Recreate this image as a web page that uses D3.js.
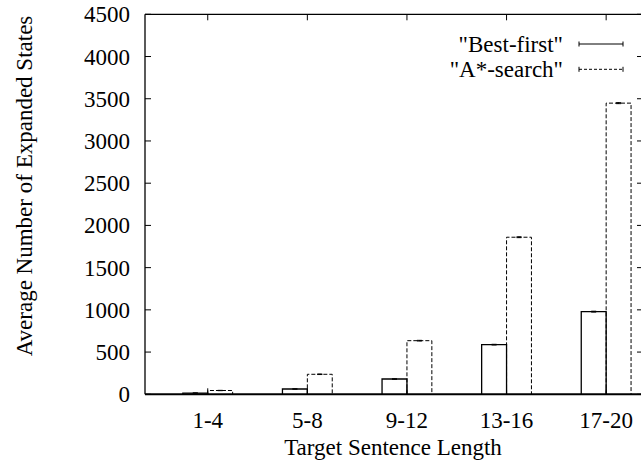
<!DOCTYPE html>
<html><head><meta charset="utf-8">
<script src="https://cdn.jsdelivr.net/npm/d3@7"></script>
<style>
svg text { font-family: "Liberation Serif", "Times New Roman", Tinos, serif !important; }
</style>
</head>
<body style="margin:0;background:#fff">
<svg id="chart" width="641" height="461" style="display:block"></svg>
<script>
const categories = ["1-4","5-8","9-12","13-16","17-20"];
const seriesNames = ["\"Best-first\"", "\"A*-search\""];
const bestFirst = [15, 63, 181, 588, 979];
const aStar = [45, 237, 635, 1860, 3448];
const bestFirstErr = [1, 2, 3, 4, 5];
const aStarErr = [2, 3, 4, 5, 6];
const yTicks = [0,500,1000,1500,2000,2500,3000,3500,4000,4500];

(function(){
const svg = d3.select("#chart");
const pL = 145, pR = 643, pT = 14.3, pB = 394.3;
const x = d3.scaleLinear().domain([-0.63, 4.37]).range([pL, pR]);
const y = d3.scaleLinear().domain([0, 4500]).range([pB, pT]);
const bw = 0.25;
const fs = 23;
function txt(g){ return g.append("text").style("font-family", `"Liberation Serif"`).attr("font-size", fs).attr("fill","#000"); }

// y axis labels & ticks
yTicks.forEach(t => {
  txt(svg).attr("x", 130).attr("y", y(t) + 8).attr("text-anchor","end").text(String(t));
  svg.append("line").attr("x1", pL).attr("x2", pL+6).attr("y1", y(t)).attr("y2", y(t))
    .attr("stroke","#000").attr("stroke-width",1);
  svg.append("line").attr("x1", pR).attr("x2", pR-6).attr("y1", y(t)).attr("y2", y(t))
    .attr("stroke","#000").attr("stroke-width",1);
});

// x tick labels & ticks
categories.forEach((c,i) => {
  txt(svg).attr("x", x(i)).attr("y", 428).attr("text-anchor","middle").text(c);
  svg.append("line").attr("x1", x(i)).attr("x2", x(i)).attr("y1", pT).attr("y2", pT+6)
    .attr("stroke","#000").attr("stroke-width",1);
  svg.append("line").attr("x1", x(i)).attr("x2", x(i)).attr("y1", pB).attr("y2", pB-6)
    .attr("stroke","#000").attr("stroke-width",1);
});

// bars
const bars = svg.append("g");
function drawSeries(vals, errs, offset, dash) {
  vals.forEach((v,i) => {
    const x0 = x(i+offset), x1 = x(i+offset+bw);
    bars.append("path")
      .attr("d", `M${x0},${y(0)}V${y(v)}H${x1}V${y(0)}`)
      .attr("fill","none").attr("stroke","#000").attr("stroke-width", dash ? 1 : 1.3)
      .attr("stroke-dasharray", dash ? "4,2" : null);
    const xc = (x0+x1)/2, e = errs[i];
    bars.append("line").attr("x1", xc).attr("x2", xc).attr("y1", y(v-e)).attr("y2", y(v+e))
      .attr("stroke","#000").attr("stroke-width",1);
    bars.append("line").attr("x1", xc-2.5).attr("x2", xc+2.5).attr("y1", y(v+e)).attr("y2", y(v+e))
      .attr("stroke","#000").attr("stroke-width",1);
    bars.append("line").attr("x1", xc-2.5).attr("x2", xc+2.5).attr("y1", y(v-e)).attr("y2", y(v-e))
      .attr("stroke","#000").attr("stroke-width",1);
  });
}
drawSeries(bestFirst, bestFirstErr, -bw, false);
drawSeries(aStar, aStarErr, 0, true);

// border
svg.append("line").attr("x1", pL).attr("x2", pL).attr("y1", pT).attr("y2", pB).attr("stroke","#000").attr("stroke-width",1.3);
svg.append("line").attr("x1", pL).attr("x2", pR).attr("y1", pT).attr("y2", pT).attr("stroke","#000").attr("stroke-width",1.3);
svg.append("line").attr("x1", pR).attr("x2", pR).attr("y1", pT).attr("y2", pB).attr("stroke","#000").attr("stroke-width",1.3);
svg.append("line").attr("x1", pL).attr("x2", pR).attr("y1", pB).attr("y2", pB).attr("stroke","#000").attr("stroke-width",2);

// axis titles
txt(svg).attr("x", 393).attr("y", 455).attr("text-anchor","middle").text("Target Sentence Length");
txt(svg).attr("transform", `translate(32,186) rotate(-90)`).attr("text-anchor","middle")
  .text("Average Number of Expanded States");

// legend
const leg = [[44, false],[69.3, true]];
seriesNames.forEach((n,k) => {
  const ly = leg[k][0];
  txt(svg).attr("x", 563).attr("y", ly + 8).attr("text-anchor","end").text(n);
  svg.append("line").attr("x1", 579).attr("x2", 623).attr("y1", ly).attr("y2", ly)
    .attr("stroke","#000").attr("stroke-width",1).attr("stroke-dasharray", leg[k][1] ? "3,2" : null);
  [579,623].forEach(xx => svg.append("line").attr("x1", xx).attr("x2", xx).attr("y1", ly-2.5).attr("y2", ly+2.5)
    .attr("stroke","#000").attr("stroke-width",1));
});
})();
</script>
</body></html>
